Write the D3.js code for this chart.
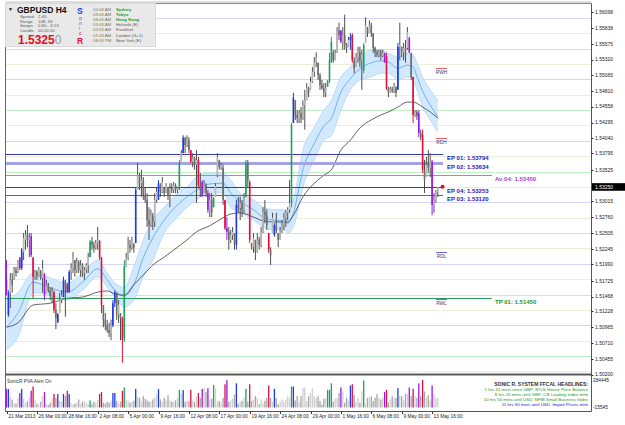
<!DOCTYPE html>
<html><head><meta charset="utf-8">
<script src="https://cdn.jsdelivr.net/npm/d3@7"></script>
<style>body{margin:0;background:#fff}svg{display:block}text{font-family:"Liberation Sans",Arial,sans-serif}</style>
</head><body><svg id="c" width="625" height="425"></svg>
<script>
// ---------- DATA ----------
const open=[1.5174,1.5117,1.5153,1.5174,1.5177,1.5190,1.5187,1.5210,1.5193,1.5219,
1.5239,1.5247,1.5239,1.5245,1.5210,1.5179,1.5187,1.5180,1.5188,1.5177,
1.5183,1.5153,1.5166,1.5157,1.5148,1.5154,1.5125,1.5105,1.5120,1.5141,
1.5146,1.5170,1.5166,1.5154,1.5187,1.5193,1.5206,1.5190,1.5203,1.5190,
1.5198,1.5185,1.5190,1.5198,1.5211,1.5236,1.5231,1.5226,1.5234,1.5237,
1.5210,1.5133,1.5109,1.5100,1.5092,1.5088,1.5100,1.5136,1.5153,1.5117,
1.5120,1.5112,1.5079,1.5196,1.5210,1.5231,1.5226,1.5232,1.5234,1.5320,
1.5344,1.5331,1.5336,1.5312,1.5304,1.5271,1.5263,1.5279,1.5268,1.5304,
1.5304,1.5328,1.5317,1.5323,1.5315,1.5325,1.5312,1.5323,1.5320,1.5328,
1.5320,1.5320,1.5364,1.5380,1.5405,1.5393,1.5401,1.5385,1.5366,1.5372,
1.5361,1.5369,1.5328,1.5333,1.5315,1.5328,1.5315,1.5288,1.5304,1.5292,
1.5309,1.5344,1.5369,1.5357,1.5356,1.5304,1.5258,1.5252,1.5239,1.5247,
1.5250,1.5231,1.5296,1.5291,1.5299,1.5288,1.5309,1.5364,1.5333,1.5234,
1.5227,1.5239,1.5219,1.5239,1.5231,1.5252,1.5284,1.5279,1.5250,1.5223,
1.5250,1.5247,1.5263,1.5250,1.5239,1.5252,1.5263,1.5275,1.5283,1.5288,
1.5299,1.5429,1.5466,1.5442,1.5437,1.5445,1.5437,1.5458,1.5466,1.5486,
1.5483,1.5496,1.5512,1.5528,1.5527,1.5507,1.5491,1.5486,1.5479,1.5488,
1.5497,1.5528,1.5544,1.5531,1.5543,1.5580,1.5579,1.5561,1.5572,1.5556,
1.5553,1.5564,1.5572,1.5531,1.5520,1.5535,1.5544,1.5531,1.5515,1.5559,
1.5583,1.5575,1.5588,1.5575,1.5551,1.5544,1.5540,1.5544,1.5538,1.5543,
1.5538,1.5486,1.5479,1.5484,1.5481,1.5488,1.5483,1.5553,1.5553,1.5544,
1.5551,1.5551,1.5567,1.5543,1.5504,1.5442,1.5447,1.5445,1.5413,1.5409,
1.5353,1.5341,1.5361,1.5356,1.5366,1.5296,1.5304,1.5317];
const high=[1.5206,1.5157,1.5185,1.5185,1.5195,1.5195,1.5206,1.5211,1.5226,1.5250,
1.5255,1.5263,1.5250,1.5250,1.5211,1.5190,1.5190,1.5195,1.5190,1.5206,
1.5185,1.5174,1.5169,1.5162,1.5162,1.5157,1.5136,1.5120,1.5153,1.5157,
1.5179,1.5174,1.5169,1.5190,1.5201,1.5219,1.5206,1.5210,1.5206,1.5206,
1.5201,1.5195,1.5201,1.5218,1.5239,1.5244,1.5236,1.5239,1.5260,1.5239,
1.5211,1.5133,1.5120,1.5109,1.5104,1.5109,1.5141,1.5157,1.5153,1.5141,
1.5120,1.5114,1.5206,1.5218,1.5244,1.5239,1.5244,1.5234,1.5325,1.5364,
1.5348,1.5353,1.5341,1.5325,1.5315,1.5292,1.5288,1.5283,1.5315,1.5325,
1.5336,1.5331,1.5341,1.5325,1.5331,1.5325,1.5331,1.5331,1.5333,1.5331,
1.5325,1.5369,1.5385,1.5409,1.5406,1.5409,1.5406,1.5385,1.5380,1.5374,
1.5385,1.5374,1.5348,1.5336,1.5336,1.5331,1.5320,1.5315,1.5315,1.5309,
1.5331,1.5380,1.5369,1.5364,1.5361,1.5304,1.5276,1.5260,1.5255,1.5260,
1.5250,1.5304,1.5309,1.5309,1.5304,1.5315,1.5369,1.5369,1.5336,1.5234,
1.5250,1.5239,1.5250,1.5244,1.5260,1.5292,1.5304,1.5288,1.5250,1.5227,
1.5283,1.5266,1.5283,1.5250,1.5260,1.5271,1.5283,1.5288,1.5292,1.5336,
1.5429,1.5478,1.5466,1.5450,1.5450,1.5455,1.5466,1.5483,1.5494,1.5488,
1.5504,1.5520,1.5536,1.5544,1.5527,1.5510,1.5499,1.5494,1.5494,1.5499,
1.5543,1.5569,1.5548,1.5548,1.5585,1.5592,1.5580,1.5585,1.5605,1.5559,
1.5569,1.5575,1.5575,1.5536,1.5543,1.5553,1.5553,1.5548,1.5559,1.5601,
1.5585,1.5596,1.5592,1.5575,1.5553,1.5548,1.5548,1.5548,1.5548,1.5543,
1.5543,1.5488,1.5488,1.5488,1.5494,1.5488,1.5559,1.5592,1.5553,1.5559,
1.5564,1.5585,1.5569,1.5543,1.5504,1.5450,1.5450,1.5450,1.5418,1.5418,
1.5369,1.5374,1.5385,1.5380,1.5369,1.5315,1.5320,1.5325];
const low=[1.5149,1.5114,1.5128,1.5153,1.5174,1.5179,1.5185,1.5190,1.5190,1.5206,
1.5223,1.5227,1.5211,1.5211,1.5144,1.5174,1.5174,1.5179,1.5174,1.5153,
1.5141,1.5153,1.5153,1.5141,1.5136,1.5120,1.5094,1.5104,1.5120,1.5136,
1.5146,1.5114,1.5153,1.5153,1.5174,1.5185,1.5179,1.5185,1.5185,1.5179,
1.5179,1.5174,1.5185,1.5185,1.5211,1.5223,1.5218,1.5223,1.5223,1.5206,
1.5120,1.5097,1.5092,1.5088,1.5081,1.5076,1.5097,1.5130,1.5109,1.5104,
1.5076,1.5039,1.5073,1.5195,1.5206,1.5218,1.5223,1.5218,1.5234,1.5320,
1.5320,1.5309,1.5304,1.5299,1.5260,1.5239,1.5260,1.5255,1.5260,1.5299,
1.5304,1.5309,1.5315,1.5309,1.5315,1.5304,1.5292,1.5315,1.5315,1.5315,
1.5315,1.5320,1.5364,1.5380,1.5380,1.5390,1.5380,1.5364,1.5357,1.5353,
1.5299,1.5325,1.5309,1.5309,1.5315,1.5309,1.5283,1.5276,1.5276,1.5292,
1.5309,1.5341,1.5353,1.5353,1.5296,1.5255,1.5239,1.5223,1.5234,1.5239,
1.5223,1.5223,1.5283,1.5271,1.5276,1.5283,1.5309,1.5325,1.5234,1.5223,
1.5218,1.5206,1.5218,1.5223,1.5227,1.5250,1.5266,1.5255,1.5218,1.5198,
1.5250,1.5244,1.5250,1.5227,1.5239,1.5250,1.5255,1.5260,1.5271,1.5283,
1.5292,1.5429,1.5434,1.5429,1.5429,1.5429,1.5434,1.5418,1.5466,1.5471,
1.5483,1.5494,1.5504,1.5520,1.5499,1.5483,1.5483,1.5471,1.5471,1.5488,
1.5494,1.5527,1.5527,1.5531,1.5543,1.5564,1.5559,1.5548,1.5548,1.5543,
1.5553,1.5548,1.5527,1.5510,1.5520,1.5527,1.5520,1.5483,1.5510,1.5559,
1.5569,1.5575,1.5569,1.5543,1.5536,1.5536,1.5536,1.5531,1.5536,1.5527,
1.5483,1.5471,1.5478,1.5478,1.5478,1.5471,1.5483,1.5531,1.5536,1.5531,
1.5527,1.5548,1.5543,1.5499,1.5429,1.5439,1.5434,1.5406,1.5401,1.5348,
1.5315,1.5341,1.5348,1.5341,1.5279,1.5283,1.5299,1.5309];
const close=[1.5153,1.5153,1.5174,1.5166,1.5190,1.5185,1.5203,1.5193,1.5223,1.5242,
1.5247,1.5239,1.5242,1.5214,1.5179,1.5187,1.5180,1.5190,1.5177,1.5193,
1.5149,1.5166,1.5157,1.5148,1.5154,1.5125,1.5112,1.5118,1.5141,1.5149,
1.5174,1.5161,1.5154,1.5187,1.5193,1.5210,1.5190,1.5203,1.5190,1.5198,
1.5185,1.5190,1.5198,1.5211,1.5236,1.5231,1.5226,1.5234,1.5239,1.5210,
1.5133,1.5109,1.5100,1.5092,1.5088,1.5100,1.5136,1.5154,1.5117,1.5133,
1.5112,1.5076,1.5196,1.5210,1.5231,1.5226,1.5239,1.5226,1.5320,1.5344,
1.5331,1.5336,1.5312,1.5304,1.5271,1.5263,1.5279,1.5268,1.5304,1.5317,
1.5331,1.5317,1.5333,1.5315,1.5327,1.5312,1.5323,1.5320,1.5328,1.5320,
1.5323,1.5364,1.5380,1.5405,1.5393,1.5401,1.5385,1.5366,1.5372,1.5361,
1.5369,1.5328,1.5320,1.5310,1.5328,1.5315,1.5288,1.5304,1.5284,1.5307,
1.5327,1.5374,1.5357,1.5361,1.5304,1.5258,1.5252,1.5239,1.5247,1.5252,
1.5231,1.5296,1.5291,1.5299,1.5288,1.5307,1.5364,1.5336,1.5239,1.5227,
1.5242,1.5219,1.5239,1.5231,1.5252,1.5284,1.5279,1.5263,1.5223,1.5214,
1.5275,1.5263,1.5255,1.5239,1.5252,1.5263,1.5275,1.5283,1.5288,1.5299,
1.5426,1.5470,1.5442,1.5437,1.5445,1.5437,1.5458,1.5466,1.5486,1.5478,
1.5496,1.5512,1.5528,1.5535,1.5507,1.5491,1.5486,1.5479,1.5486,1.5497,
1.5531,1.5561,1.5531,1.5543,1.5580,1.5572,1.5561,1.5572,1.5556,1.5551,
1.5564,1.5569,1.5531,1.5518,1.5535,1.5544,1.5531,1.5540,1.5556,1.5588,
1.5575,1.5588,1.5575,1.5551,1.5544,1.5540,1.5544,1.5538,1.5543,1.5528,
1.5486,1.5479,1.5484,1.5481,1.5489,1.5478,1.5553,1.5556,1.5544,1.5551,
1.5540,1.5577,1.5544,1.5504,1.5442,1.5447,1.5440,1.5413,1.5406,1.5353,
1.5336,1.5361,1.5356,1.5366,1.5296,1.5304,1.5317,1.5325];
// PVA class per bar: n normal, r bear climax, g bull climax, b bull rising, v bear rising
const pva=("v b n n n n n v b n n n n v r n n n n n "+
"v n n n n r n b n n b n r b n n n n n n "+
"n n n n g n n n n r r n n n n n b b n n "+
"n r g n n n n n b n n n n n n n n n n n "+
"b n n n n n n n n n n g n b n n n r n n "+
"n r n v n n v n n g n n n n n r v n n n "+
"n b n n n n g n r n n n n n n n n n r n "+
"n b n n n n n n n n g b n n n n n n n n "+
"n n n n n n n n n g g g n n n n v n n n "+
"n b r n n n n n g n n n n n n n n n n v "+
"r n n n n n b n n n n n v n r n n v n r "+
"n n n n v n n n").split(" ");
// volume (thousands)
const volume=[193,190,110,83,40,40,100,150,193,90,50,67,110,173,217,80,40,33,60,120,
160,40,27,50,90,140,100,140,67,60,140,120,173,140,50,33,40,50,83,40,
60,67,50,40,73,33,60,50,80,140,160,50,40,60,50,70,150,150,67,40,
60,173,207,83,73,50,60,70,193,110,100,67,117,90,73,60,60,83,100,140,
190,83,60,100,80,127,73,60,60,73,100,183,150,180,60,73,67,183,73,60,
117,150,100,193,200,160,200,83,93,233,200,60,67,50,100,240,283,60,73,93,
133,250,40,60,70,100,193,60,240,67,80,117,100,33,83,50,70,100,227,100,
60,193,100,33,60,83,60,83,117,100,217,217,73,117,60,117,200,207,67,117,
150,200,117,100,117,67,33,90,100,183,183,250,60,93,100,150,207,167,50,100,
73,227,240,127,60,100,50,167,280,40,100,107,117,67,100,140,100,83,100,160,
183,50,83,117,100,100,200,120,117,73,140,140,207,117,193,117,100,250,117,284,
167,100,127,73,227,140,100,100];
// time labels (every 16 H4 bars)
const timeLabels=["21 Mar 2013","26 Mar 00:00","28 Mar 16:00","2 Apr 08:00","5 Apr 00:00","9 Apr 16:00","12 Apr 08:00","17 Apr 00:00","19 Apr 16:00","24 Apr 08:00","29 Apr 00:00","1 May 16:00","6 May 08:00","9 May 00:00","13 May 16:00"];
const timeLabelBars=[0,16,32,48,64,80,96,112,128,144,160,176,192,208,224];
// price axis labels
const priceTicks=["1.56098","1.55838","1.55575","1.55320","1.55065","1.54810","1.54558","1.54295","1.54040","1.53795","1.53525","1.53015","1.52760","1.52505","1.52245","1.51990","1.51725","1.51468","1.51228","1.50965","1.50710","1.50455","1.50200"];
const lastPrice="1.53250";
// Sonic R dragon (EMA34 high/low/close) and EMA89 read at bars
const bandBars=[0,6,14,23,32,40,48,53,57,62,67,72,77,83,90,95,100,107,114,118,123,130,135,141,146,148,151,156,162,167,171,176,181,186,192,197,201,206,211,214,216,219,223,227];
const bandHigh=[1.5141,1.5153,1.5185,1.5177,1.5169,1.5185,1.5206,1.5185,1.5169,1.5162,1.5195,1.5239,1.5271,1.5292,1.5315,1.5325,1.5341,1.5348,1.5348,1.5336,1.5315,1.5304,1.5292,1.5288,1.5288,1.5283,1.5304,1.5385,1.5422,1.5450,1.5466,1.5504,1.5520,1.5536,1.5548,1.5548,1.5543,1.5536,1.5543,1.5540,1.5527,1.5504,1.5483,1.5466];
const bandLow=[1.5060,1.5081,1.5153,1.5149,1.5141,1.5157,1.5179,1.5162,1.5146,1.5130,1.5141,1.5179,1.5206,1.5250,1.5276,1.5292,1.5304,1.5315,1.5315,1.5292,1.5283,1.5271,1.5260,1.5255,1.5255,1.5250,1.5260,1.5325,1.5369,1.5401,1.5409,1.5450,1.5483,1.5499,1.5504,1.5510,1.5510,1.5499,1.5504,1.5499,1.5483,1.5455,1.5434,1.5414];
const emaMid=[1.5097,1.5120,1.5170,1.5161,1.5154,1.5170,1.5192,1.5174,1.5157,1.5148,1.5166,1.5210,1.5242,1.5271,1.5296,1.5309,1.5320,1.5330,1.5331,1.5315,1.5301,1.5288,1.5276,1.5271,1.5270,1.5266,1.5283,1.5353,1.5396,1.5424,1.5437,1.5479,1.5501,1.5517,1.5527,1.5530,1.5528,1.5518,1.5523,1.5520,1.5505,1.5481,1.5458,1.5439];
const ema89=[1.5097,1.5104,1.5133,1.5136,1.5144,1.5146,1.5154,1.5156,1.5151,1.5149,1.5166,1.5182,1.5198,1.5211,1.5227,1.5239,1.5252,1.5262,1.5275,1.5281,1.5283,1.5276,1.5270,1.5268,1.5268,1.5268,1.5279,1.5309,1.5331,1.5344,1.5353,1.5385,1.5401,1.5421,1.5434,1.5442,1.5447,1.5455,1.5463,1.5463,1.5461,1.5455,1.5447,1.5437];
// 25-pip level lines
const levelPrices=[1.5600,1.5575,1.5550,1.5525,1.5500,1.5475,1.5450,1.5425,1.5400,1.5375,1.5350,1.5325,1.5300,1.5275,1.5250,1.5225,1.5200,1.5175,1.5150,1.5125,1.5100,1.5075,1.5050,1.5025];
// trade lines
const tradeNames=["EP 01","EP 02","Av 04","EP 04","EP 03","TP 01"];
const tradePrices=[1.53794,1.53634,1.53450,1.53253,1.53120,1.51450];
// range levels
const rangeNames=["RWH","RDH","RDL","RWL"];
const rangePrices=[1.5518,1.5405,1.5219,1.5143];
// info panel
const sessionTimes=["10:03 AM","09:03 AM","08:03 AM","03:03 AM","02:03 AM","01:03 AM","08:03 PM"];
const sessionNames=["Sydney","Tokyo","Hong Kong","Helsinki (E)","Frankfurt","London (G+1)","New York (E)"];
const sessionOpen=[true,true,true,false,false,false,false];
const infoRows=[["Spread","2.40"],["Range","108, 33"],["Swaps","0.80, -3.13"],["Candle","00:20:20"]];
const news=["1 hrs 31 mins since GBP: RICS House Price Balance","8 hrs 20 mins until GBP: CB Leading Index m/m","10 hrs 50 mins until USD: NFIB Small Business Index","11 hrs 50 mins until USD: Import Prices m/m"];
const volTicks=["284445","-15545"];

// ---------- DRAW ----------
const svg=d3.select("#c");
const x=d3.scaleLinear().domain([0,227]).range([6.5,437.8]);
const y=d3.scaleLinear().domain([1.5000,1.5629]).range([386.84,0]);
const vy=d3.scaleLinear().domain([-15.545,284.445]).range([409,380]);
const PL=5.5,PR=591.5,PT=3.5,PB=373.5;
const col={r:"#e0103c",g:"#1ea05e",b:"#1c3ce0",v:"#9a18e8"};

svg.append("rect").attr("width",625).attr("height",425).attr("fill","#fff");
svg.append("clipPath").attr("id","cp").append("rect").attr("x",PL).attr("y",PT).attr("width",PR-PL).attr("height",PB-PT);
const main=svg.append("g").attr("clip-path","url(#cp)");

// level lines
main.selectAll("line.lv").data(levelPrices).join("line")
 .attr("x1",PL).attr("x2",PR).attr("y1",d=>Math.round(y(d))+0.5).attr("y2",d=>Math.round(y(d))+0.5)
 .attr("stroke",d=>{const k=Math.round(d*10000)%100;return k===0?"#d6d6f6":(k===50?"#c4efc4":"#eeeed8");})
 .attr("stroke-width",1);

// dragon band
const bd=bandBars.map((b,i)=>({b,h:bandHigh[i],l:bandLow[i],m:emaMid[i],e:ema89[i]}));
const cv=d3.curveMonotoneX;
main.append("path").datum(bd).attr("d",d3.area().curve(cv).x(d=>x(d.b)).y0(d=>y(d.l)).y1(d=>y(d.h)))
 .attr("fill","#d2e8fc");
main.append("path").datum(bd).attr("d",d3.line().curve(cv).x(d=>x(d.b)).y(d=>y(d.h))).attr("fill","none").attr("stroke","#b3d6f7").attr("stroke-width",0.8);
main.append("path").datum(bd).attr("d",d3.line().curve(cv).x(d=>x(d.b)).y(d=>y(d.l))).attr("fill","none").attr("stroke","#b3d6f7").attr("stroke-width",0.8);
main.append("path").datum(bd).attr("d",d3.line().curve(cv).x(d=>x(d.b)).y(d=>y(d.m))).attr("fill","none").attr("stroke","#3d9cf0").attr("stroke-width",0.7);
main.append("path").datum(bd).attr("d",d3.line().curve(cv).x(d=>x(d.b)).y(d=>y(d.e))).attr("fill","none").attr("stroke","#222").attr("stroke-width",0.7);

// trade lines
const tStyle=[{c:"#3a3aa4",w:1,end:443,lx:447,lc:"#2020c4"},{c:"#a4a4e4",w:3,end:443,lx:447,lc:"#2020c4"},{c:"#cc70dc",w:1,end:492,lx:495,lc:"#b040cc"},{c:"#3434cc",w:1,end:443,lx:447,lc:"#2020c4"},{c:"#5a5ad8",w:1,end:443,lx:447,lc:"#2020c4"},{c:"#2e9e60",w:1,end:492,lx:495,lc:"#18982e"}];
tradePrices.forEach((p,i)=>{
  const s=tStyle[i],yy=Math.round(y(p))+0.5;
  main.append("line").attr("x1",PL).attr("x2",s.end).attr("y1",yy).attr("y2",yy).attr("stroke",s.c).attr("stroke-width",s.w);
  svg.append("text").attr("x",s.lx).attr("y",yy+5.5).attr("font-size",6).attr("font-weight","bold").attr("fill",s.lc)
   .text(tradeNames[i]+":  "+p.toFixed(5));
});

// candles
const bars=d3.range(open.length);
const cg=main.append("g");
cg.selectAll("line").data(bars).join("line")
 .attr("x1",i=>x(i)).attr("x2",i=>x(i)).attr("y1",i=>y(high[i])).attr("y2",i=>y(low[i]))
 .attr("stroke",i=>pva[i]==="n"?"#4e4e4e":col[pva[i]]).attr("stroke-width",1);
cg.selectAll("rect").data(bars).join("rect")
 .attr("x",i=>x(i)-0.8).attr("width",1.6)
 .attr("y",i=>y(Math.max(open[i],close[i])))
 .attr("height",i=>Math.max(0.8,Math.abs(y(open[i])-y(close[i]))))
 .attr("fill",i=>pva[i]==="n"?(close[i]>=open[i]?"#b8b8b8":"#6e6e6e"):col[pva[i]]);

// range markers
rangePrices.forEach((p,i)=>{
  const yy=Math.round(y(p))+0.5, up=i<2;
  svg.append("line").attr("x1",436).attr("x2",447).attr("y1",yy).attr("y2",yy).attr("stroke",up?"#e86060":"#6a6ae0").attr("stroke-width",1);
  svg.append("text").attr("x",441.5).attr("y",yy+5).attr("text-anchor","middle").attr("font-size",4.8).attr("fill","#40407a").text(rangeNames[i]);
});
// current price dot
svg.append("circle").attr("cx",x(229.5)).attr("cy",y(tradePrices[3])).attr("r",2).attr("fill","#e01020");

// frame
svg.append("line").attr("x1",PL).attr("x2",PL).attr("y1",PT).attr("y2",411.5).attr("stroke","#666");
svg.append("line").attr("x1",PR).attr("x2",PR).attr("y1",PT).attr("y2",411.5).attr("stroke","#555");
svg.append("line").attr("x1",PL).attr("x2",PR).attr("y1",3.5).attr("y2",3.5).attr("stroke","#888");
svg.append("line").attr("x1",PL).attr("x2",PR).attr("y1",2).attr("y2",2).attr("stroke","#bbb");
svg.append("rect").attr("x",PL).attr("y",373.5).attr("width",PR-PL).attr("height",2).attr("fill","#5a5a5a");
svg.append("line").attr("x1",PL).attr("x2",PR).attr("y1",411.5).attr("y2",411.5).attr("stroke","#555");

// price axis
priceTicks.forEach(t=>{
  const yy=y(+t);
  svg.append("line").attr("x1",591).attr("x2",593.5).attr("y1",Math.round(yy)+0.5).attr("y2",Math.round(yy)+0.5).attr("stroke","#333");
  svg.append("text").attr("x",595).attr("y",yy+1.8).attr("font-size",5).attr("fill","#222").text(t);
});
const ly=y(+lastPrice);
svg.append("rect").attr("x",592).attr("y",ly-3.8).attr("width",33).attr("height",7.6).attr("fill","#000");
svg.append("text").attr("x",595).attr("y",ly+1.8).attr("font-size",5).attr("fill","#fff").text(lastPrice);

// volume pane
const vg=svg.append("g");
vg.selectAll("rect").data(bars).join("rect")
 .attr("x",i=>x(i)-0.65).attr("width",1.3)
 .attr("y",i=>vy(volume[i])).attr("height",i=>vy(0)-vy(volume[i]))
 .attr("fill",i=>pva[i]==="n"?(close[i]>=open[i]?"#cfcfcf":"#a6a6a6"):col[pva[i]]);
svg.append("text").attr("x",7).attr("y",383).attr("font-size",4.8).attr("fill","#333").text("SonicR PVA   Alert On");
svg.append("text").attr("x",593).attr("y",381.5).attr("font-size",4.8).attr("fill","#222").text(volTicks[0]);
svg.append("text").attr("x",593).attr("y",409).attr("font-size",4.8).attr("fill","#222").text(volTicks[1]);
svg.append("text").attr("x",588).attr("y",385.5).attr("text-anchor","end").attr("font-size",5).attr("font-weight","bold").attr("fill","#333").text("SONIC R. SYSTEM  FFCAL HEADLINES:");
const newsCol=["#1a961a","#1a961a","#1a961a","#2020d0"], newsY=[391,396,401,406.3];
news.forEach((t,i)=>svg.append("text").attr("x",588).attr("y",newsY[i]).attr("text-anchor","end").attr("font-size",4.4).attr("fill",newsCol[i]).text(t));

// time axis
timeLabels.forEach((t,i)=>{
  const xx=Math.round(x(timeLabelBars[i]))+0.5;
  svg.append("line").attr("x1",xx).attr("x2",xx).attr("y1",411.5).attr("y2",414).attr("stroke","#333");
  svg.append("text").attr("x",xx+1).attr("y",418).attr("font-size",4.8).attr("fill","#222").text(t);
});

// info panel
const ip=svg.append("g");
ip.append("rect").attr("x",5.5).attr("y",3.5).attr("width",150).attr("height",43).attr("fill","#e9e9e9").attr("stroke","#d8d8d8");
ip.append("text").attr("x",8).attr("y",11).attr("font-size",5).attr("fill","#111").text("\u25BC");
ip.append("text").attr("x",17).attr("y",13).attr("font-size",8.5).attr("font-weight","bold").attr("fill","#111").text("GBPUSD  H4");
infoRows.forEach((r,i)=>{
  ip.append("text").attr("x",20).attr("y",17.8+i*4.8).attr("font-size",4.3).attr("fill","#555").text(r[0]);
  ip.append("text").attr("x",38).attr("y",17.8+i*4.8).attr("font-size",4.3).attr("fill","#555").text(r[1]);
});
const bigT=ip.append("text").attr("x",18).attr("y",43.5).attr("font-size",12);
bigT.append("tspan").attr("font-weight","bold").attr("fill","#e01020").text(lastPrice.slice(0,6));
bigT.append("tspan").attr("fill","#9a9a9a").text(lastPrice.slice(6));
ip.append("text").attr("x",77).attr("y",14).attr("font-size",8.5).attr("font-weight","bold").attr("fill","#1c3ce0").text("S");
[["o","#9a18e8",19.5],["n","#9a18e8",24.5],["i","#e040a0",29.5],["c","#e01040",34.5]].forEach(d=>
  ip.append("text").attr("x",79).attr("y",d[2]).attr("font-size",5).attr("fill",d[1]).text(d[0]));
ip.append("text").attr("x",77).attr("y",44).attr("font-size",8.5).attr("font-weight","bold").attr("fill","#e01040").text("R");
sessionTimes.forEach((t,i)=>{
  const yy=10.5+i*5.2;
  ip.append("text").attr("x",93).attr("y",yy).attr("font-size",4.3).attr("fill","#7f7452").text(t);
  ip.append("text").attr("x",116).attr("y",yy).attr("font-size",4.3).attr("font-weight",sessionOpen[i]?"bold":"normal")
   .attr("fill",sessionOpen[i]?"#1e9a1e":"#555").text(sessionNames[i]);
});
</script></body></html>
